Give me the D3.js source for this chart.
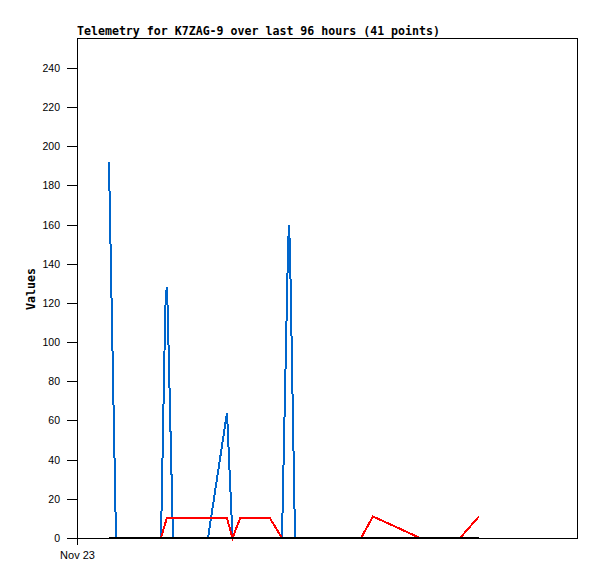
<!DOCTYPE html>
<html>
<head>
<meta charset="utf-8">
<script src="https://cdn.jsdelivr.net/npm/d3@7"></script>
<style>
  body { margin: 0; background: #fff; }
</style>
</head>
<body>
<div id="chart"></div>
<script>
// Data (hours after Nov 23 00:00)
const hours = [6.14, 7.49, 16.13, 16.95, 17.22, 17.41, 18.43, 25.15, 28.80, 29.86, 31.30,
  37.06, 39.36, 40.51, 40.70, 40.90, 41.86, 54.53, 56.83, 65.86, 73.54, 77.18]
const blueValues = [192, 0, 0, 117, 128, 117, 0, 0, 64, 0, 0,
  0, 0, 147, 160, 147, 0, 0, 0, 0, 0, 0]
const redValues = [0, 0, 0, 7.5, 10, 10, 10, 10, 10, 0, 10,
  10, 0, 0, 0, 0, 0, 0, 11, 0, 0, 11]
const blackValues = [0, 0, 0, 0, 0, 0, 0, 0, 0, 0, 0,
  0, 0, 0, 0, 0, 0, 0, 0, 0, 0, 0]
const yTicks = [0, 20, 40, 60, 80, 100, 120, 140, 160, 180, 200, 220, 240]
const startDate = new Date(2023, 10, 23, 0, 0)
const endDate = new Date(2023, 10, 27, 0, 0)
const titleText = 'Telemetry for K7ZAG-9 over last 96 hours (41 points)'
const yLabelText = 'Values'

function draw() {
  let dimensions = {
    width: 597,
    height: 579,
    margins: { top: 38, bottom: 41, left: 77, right: 20 }
  }
  dimensions.ctrWidth = dimensions.width - dimensions.margins.left - dimensions.margins.right
  dimensions.ctrHeight = dimensions.height - dimensions.margins.top - dimensions.margins.bottom

  const toDate = h => new Date(startDate.getTime() + h * 3600 * 1000)

  const svg = d3.select('#chart')
    .append('svg')
    .attr('width', dimensions.width)
    .attr('height', dimensions.height)

  const ctr = svg.append('g')
    .attr('transform', `translate(${dimensions.margins.left}, ${dimensions.margins.top})`)

  // Scales
  const xScale = d3.scaleTime()
    .domain([startDate, endDate])
    .range([0, dimensions.ctrWidth])

  const yScale = d3.scaleLinear()
    .domain([0, 255.3])
    .range([dimensions.ctrHeight, 0])

  // Frame
  ctr.append('rect')
    .attr('x', 0.5)
    .attr('y', 0.5)
    .attr('width', dimensions.ctrWidth)
    .attr('height', dimensions.ctrHeight)
    .attr('fill', 'none')
    .attr('stroke', '#000')
    .attr('stroke-width', 1)
    .attr('shape-rendering', 'crispEdges')

  // Axes
  const yAxis = d3.axisLeft(yScale)
    .tickValues(yTicks)
    .tickSize(10)
    .tickPadding(7)

  const yAxisGroup = ctr.append('g')
    .call(yAxis)
  yAxisGroup.select('.domain').remove()
  yAxisGroup.selectAll('line').attr('shape-rendering', 'crispEdges')
  yAxisGroup.selectAll('text')
    .attr('font-family', 'Liberation Sans, Arial, sans-serif')
    .attr('font-size', 10.5)
    .attr('fill', '#000')

  const xAxis = d3.axisBottom(xScale)
    .tickValues([startDate])
    .tickFormat(d3.timeFormat('%b %d'))
    .tickSize(7)
    .tickPadding(6)

  const xAxisGroup = ctr.append('g')
    .call(xAxis)
    .attr('transform', `translate(0, ${dimensions.ctrHeight})`)
  xAxisGroup.select('.domain').remove()
  xAxisGroup.selectAll('line').attr('shape-rendering', 'crispEdges')
  xAxisGroup.selectAll('text')
    .attr('font-family', 'Liberation Sans, Arial, sans-serif')
    .attr('font-size', 11)
    .attr('fill', '#000')

  // Lines
  const series = [
    { values: blueValues, color: '#0066cc', width: 2 },
    { values: redValues, color: '#ff0000', width: 2 },
    { values: blackValues, color: '#000000', width: 2 }
  ]

  series.forEach(s => {
    const line = d3.line()
      .x((d, i) => xScale(toDate(hours[i])))
      .y(d => yScale(d))
    ctr.append('path')
      .datum(s.values)
      .attr('d', line)
      .attr('fill', 'none')
      .attr('stroke', s.color)
      .attr('stroke-width', s.width)
      .attr('shape-rendering', 'crispEdges')
  })

  // Title
  svg.append('text')
    .attr('x', dimensions.margins.left)
    .attr('y', 35)
    .attr('font-family', 'DejaVu Sans Mono, monospace')
    .attr('font-weight', 'bold')
    .attr('font-size', 11.6)
    .text(titleText)

  // Y label
  svg.append('text')
    .attr('transform', `translate(35, ${dimensions.margins.top + dimensions.ctrHeight / 2 + 1}) rotate(-90)`)
    .attr('text-anchor', 'middle')
    .attr('font-family', 'DejaVu Sans Mono, monospace')
    .attr('font-weight', 'bold')
    .attr('font-size', 11.6)
    .text(yLabelText)
}

draw()
</script>
</body>
</html>
